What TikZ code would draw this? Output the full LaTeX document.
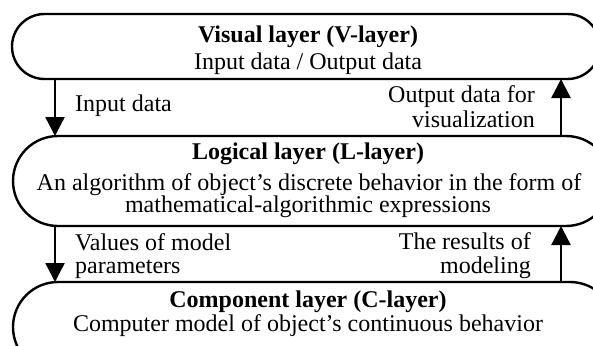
\documentclass[tikz,border=0pt]{standalone}
\usepackage{fontspec}
\setmainfont{Liberation Serif}
\usetikzlibrary{arrows.meta,shapes.misc}
\begin{document}
\begin{tikzpicture}[x=1pt,y=-1pt,
  layer/.style={rounded rectangle, draw, line width=2.4pt, inner sep=0pt, outer sep=0pt},
  arr/.style={line width=2.4pt, -{Triangle[width=19pt,length=19pt]}},
  txt/.style={inner sep=0pt, anchor=base, font=\fontsize{24}{25}\selectfont},
  ttl/.style={txt, font=\fontsize{24}{25}\selectfont\bfseries},
  lbl/.style={txt, anchor=base west},
  rlbl/.style={txt, anchor=base east}]
\path[use as bounding box] (0,0) rectangle (593,345);
\clip (0,0) rectangle (593,345);
% layers
\node[layer, minimum width=588pt, minimum height=65pt] (V) at (306,46.5) {};
\node[layer, minimum width=598pt, minimum height=90pt] (L) at (312,181) {};
\node[layer, minimum width=602pt, minimum height=90pt] (C) at (314,327) {};
% connector columns
\coordinate (xl) at (55,0);
\coordinate (xr) at (561,0);
\draw[arr] (V.south -| xl) -- (L.north -| xl);
\draw[arr] (L.north -| xr) -- (V.south -| xr);
\draw[arr] (L.south -| xl) -- (C.north -| xl);
\draw[arr] (C.north -| xr) -- (L.south -| xr);
% texts
\node[ttl] (Vt) at (308,42) {Visual layer (V-layer)};
\node[txt] (Vs) at (308,69) {Input data / Output data};
\node[lbl] (in) at (75,111) {Input data};
\node[rlbl] (out1) at (535,102) {Output data for};
\node[rlbl] (out2) at (535,127) {visualization};
\node[ttl] (Lt) at (308,159) {Logical layer (L-layer)};
\node[txt] (Ls1) at (309,190) {An algorithm of object’s discrete behavior in the form of};
\node[txt] (Ls2) at (308,212) {mathematical-algorithmic expressions};
\node[lbl] (val1) at (75,250) {Values of model};
\node[lbl] (val2) at (75,273) {parameters};
\node[rlbl] (res1) at (531,249) {The results of};
\node[rlbl] (res2) at (531,273) {modeling};
\node[ttl] (Ct) at (308,307) {Component layer (C-layer)};
\node[txt] (Cs) at (308,331) {Computer model of object’s continuous behavior};
\end{tikzpicture}
\end{document}
